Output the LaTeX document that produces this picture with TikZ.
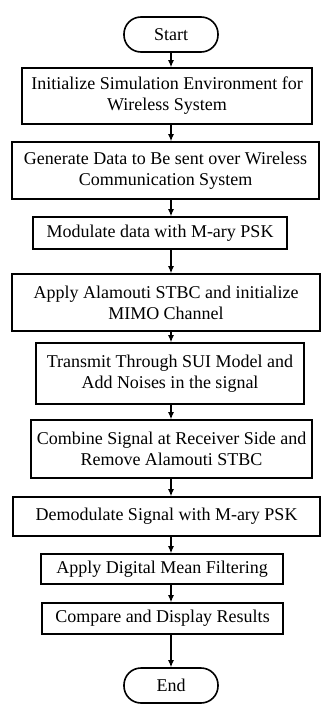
\documentclass[tikz,border=0pt]{standalone}
\usepackage{fontspec}
\setmainfont{Liberation Serif}
\usetikzlibrary{arrows.meta}
\begin{document}
\begin{tikzpicture}[x=1pt,y=-1pt,
  box/.style={draw,line width=1.6pt,rectangle,align=center,inner sep=0pt,font=\fontsize{18}{21}\selectfont},
  term/.style={box,rounded corners=17pt},
  arr/.style={line width=1.1pt,-{Latex[length=7pt,width=6pt]}}]
\useasboundingbox (0,0) rectangle (321,704);
\node[term,minimum width=94pt,minimum height=35pt] (start) at (171,34.5) {Start};
\node[box,minimum width=290pt,minimum height=56pt] (b1) at (167,96) {Initialize Simulation Environment for\\Wireless System};
\node[box,minimum width=307pt,minimum height=57pt] (b2) at (165.5,170.5) {Generate Data to Be sent over Wireless\\Communication System};
\node[box,minimum width=254pt,minimum height=32pt] (b3) at (160,233) {Modulate data with M-ary PSK};
\node[box,minimum width=308pt,minimum height=57pt] (b4) at (166,302.5) {Apply Alamouti STBC and initialize\\MIMO Channel};
\node[box,minimum width=268pt,minimum height=61pt] (b5) at (170,373.5) {Transmit Through SUI Model and\\Add Noises in the signal};
\node[box,minimum width=281pt,minimum height=58pt] (b6) at (171.5,449) {Combine Signal at Receiver Side and\\Remove Alamouti STBC};
\node[box,minimum width=307pt,minimum height=39pt] (b7) at (166.5,516.5) {Demodulate Signal with M-ary PSK};
\node[box,minimum width=242pt,minimum height=30pt] (b8) at (162,569) {Apply Digital Mean Filtering};
\node[box,minimum width=241pt,minimum height=31pt] (b9) at (162.5,618.5) {Compare and Display Results};
\node[term,minimum width=94pt,minimum height=35pt] (end) at (171,685.5) {End};
\draw[arr] (start.south) -- (start.south |- b1.north);
\foreach \a/\b in {b1/b2,b2/b3,b3/b4,b4/b5,b5/b6,b6/b7,b7/b8,b8/b9,b9/end}
  \draw[arr] (\a.south -| start.south) -- (\b.north -| start.south);
\end{tikzpicture}
\end{document}
